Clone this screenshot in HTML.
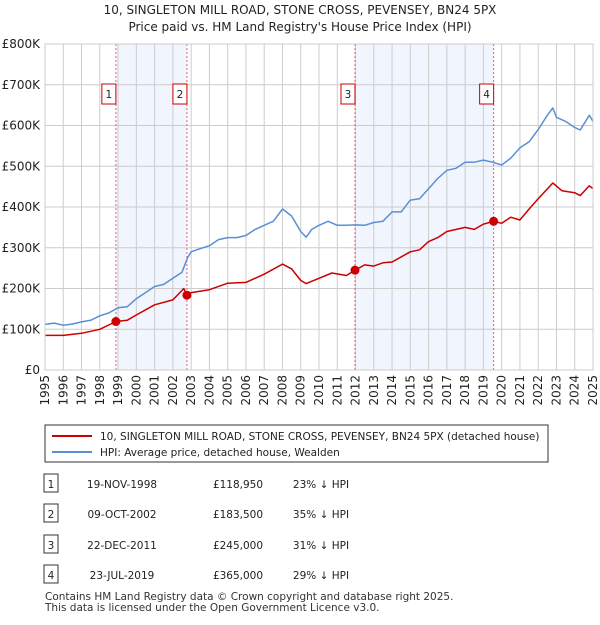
<!DOCTYPE html>
<html><head><meta charset="utf-8">
<style>
body{margin:0;background:#fff;font-family:"Liberation Sans","DejaVu Sans",sans-serif;}
svg text{font-family:"DejaVu Sans","Liberation Sans",sans-serif;}
</style></head>
<body>
<svg id="c" width="600" height="620" xmlns="http://www.w3.org/2000/svg">
<text x="300" y="14" text-anchor="middle" font-size="12" fill="#222">10, SINGLETON MILL ROAD, STONE CROSS, PEVENSEY, BN24 5PX</text>
<text x="300" y="31" text-anchor="middle" font-size="12" fill="#222">Price paid vs. HM Land Registry's House Price Index (HPI)</text>
<g id="plot"></g>
<rect x="45" y="425" width="503" height="37" fill="#fff" stroke="#333"/>
<line x1="52" y1="436" x2="92" y2="436" stroke="#cc0000" stroke-width="2"/>
<text x="100" y="440" font-size="10.5" fill="#222">10, SINGLETON MILL ROAD, STONE CROSS, PEVENSEY, BN24 5PX (detached house)</text>
<line x1="52" y1="452" x2="92" y2="452" stroke="#5b8fd4" stroke-width="2"/>
<text x="100" y="456" font-size="10.5" fill="#222">HPI: Average price, detached house, Wealden</text>
<g id="tbl" font-size="10.5" fill="#222"></g>
<text x="45" y="600" font-size="10.5" fill="#333">Contains HM Land Registry data © Crown copyright and database right 2025.</text>
<text x="45" y="611" font-size="10.5" fill="#333">This data is licensed under the Open Government Licence v3.0.</text>
</svg>
<script>
const hpiYears=[1995,1995.5,1996,1996.5,1997,1997.5,1998,1998.5,1999,1999.5,2000,2000.5,2001,2001.5,2002,2002.5,2002.8,2003,2003.5,2004,2004.5,2005,2005.5,2006,2006.5,2007,2007.5,2008,2008.5,2009,2009.3,2009.6,2010,2010.5,2011,2011.5,2012,2012.5,2013,2013.5,2014,2014.5,2015,2015.5,2016,2016.5,2017,2017.5,2018,2018.5,2019,2019.5,2020,2020.5,2021,2021.5,2022,2022.5,2022.8,2023,2023.5,2024,2024.3,2024.8,2025];
const hpiValues=[112,115,110,113,118,122,133,140,153,155,175,190,205,210,225,240,275,290,298,305,320,325,325,330,345,355,365,395,378,340,326,345,355,365,355,355,356,355,362,365,388,388,417,420,445,470,490,495,510,510,515,510,503,520,545,560,590,625,643,620,610,595,589,625,610];
const ppYears=[1995,1996,1997,1998,1998.88,1999.5,2000,2001,2002,2002.6,2002.77,2003,2004,2005,2006,2007,2008,2008.5,2009,2009.3,2010,2010.7,2011.5,2011.97,2012.5,2013,2013.5,2014,2015,2015.5,2016,2016.5,2017,2018,2018.5,2019,2019.56,2020,2020.5,2021,2021.5,2022,2022.8,2023.3,2024,2024.3,2024.8,2025];
const ppValues=[85,85,90,100,119,122,135,160,172,200,183.5,190,197,213,215,235,260,248,220,212,225,238,232,245,258,255,263,265,290,295,315,325,340,350,345,358,365,360,375,368,395,420,459,440,435,428,452,445];
const saleLabels=["1","2","3","4"];
const saleYears=[1998.88,2002.77,2011.97,2019.56];
const salePrices=[118950,183500,245000,365000];
const saleDates=["19-NOV-1998","09-OCT-2002","22-DEC-2011","23-JUL-2019"];
const salePriceText=["£118,950","£183,500","£245,000","£365,000"];
const saleHpiText=["23% ↓ HPI","35% ↓ HPI","31% ↓ HPI","29% ↓ HPI"];
const yTicks=[0,100,200,300,400,500,600,700,800];
const yTickLabels=["£0","£100K","£200K","£300K","£400K","£500K","£600K","£700K","£800K"];
const xTicks=[1995,1996,1997,1998,1999,2000,2001,2002,2003,2004,2005,2006,2007,2008,2009,2010,2011,2012,2013,2014,2015,2016,2017,2018,2019,2020,2021,2022,2023,2024,2025];

const X0=45,X1=593,Y0=370,Y1=44;
const xs=y=>X0+(y-1995)/30*(X1-X0);
const ys=v=>Y0-v/800*(Y0-Y1);
const NS="http://www.w3.org/2000/svg";
const g=document.getElementById('plot');
function mk(t,a,p){const e=document.createElementNS(NS,t);for(const k in a)e.setAttribute(k,a[k]);(p||g).appendChild(e);return e;}
// shading
for(let i=0;i<4;i+=2){
 const r=mk('rect',{x:xs(saleYears[i]),y:Y1,width:xs(saleYears[i+1])-xs(saleYears[i]),height:Y0-Y1,fill:'#eef3fd',opacity:0.8});
 
 
}
// grid
xTicks.forEach(t=>{
 const l=mk('line',{x1:xs(t),x2:xs(t),y1:Y1,y2:Y0,stroke:'#ccc','stroke-width':1});
 
 
 const tx=mk('text',{x:0,y:0,'font-size':12,fill:'#222','text-anchor':'end',transform:`translate(${xs(t)+4},${Y0+5}) rotate(-90)`});
 tx.textContent=t;
 
 
});
yTicks.forEach((t,i)=>{
 const l=mk('line',{x1:X0,x2:X1,y1:ys(t),y2:ys(t),stroke:'#ccc','stroke-width':1});
 
 
 const tx=mk('text',{x:X0-5,y:ys(t)+4,'font-size':12,fill:'#222','text-anchor':'end'});
 tx.textContent=yTickLabels[i];
 
 
});
// sale lines and markers
saleYears.forEach((s,i)=>{
 const l=mk('line',{x1:xs(s),x2:xs(s),y1:Y1,y2:Y0,stroke:'#e06070','stroke-width':1,'stroke-dasharray':'2,2'});
 
 
 const b=mk('rect',{x:xs(s)-14,y:84,width:14,height:20,fill:'#fff',stroke:'#cc0000'});
 
 
 const t=mk('text',{x:xs(s)-7,y:98,'font-size':10.5,fill:'#222','text-anchor':'middle'});
 t.textContent=saleLabels[i];
 
 
});
function line(xsA,vs,col,name){
 const d=xsA.map((y,i)=>(i?'L':'M')+xs(y).toFixed(1)+','+ys(vs[i]).toFixed(1)).join('');
 const p=mk('path',{d:d,fill:'none',stroke:col,'stroke-width':1.5,'stroke-linejoin':'round'});
 
 
}
line(hpiYears,hpiValues,'#5b8fd4','hpi-line');
line(ppYears,ppValues,'#cc0000','price-paid-line');
saleYears.forEach((s,i)=>{
 const c=mk('circle',{cx:xs(s),cy:ys(salePrices[i]/1000),r:4.5,fill:'#cc0000'});
 
 
});
mk('rect',{x:X0,y:Y1,width:X1-X0,height:Y0-Y1,fill:'none',stroke:'#ccc'});
// table
const tb=document.getElementById('tbl');
const rowY=[484,514,545,575];
saleLabels.forEach((lb,i)=>{
 const y=rowY[i];
 const b=mk('rect',{x:44,y:y-10,width:14,height:18,fill:'#fff',stroke:'#333'},tb);
 
 
 const cells=[[51,lb,'middle'],[122,saleDates[i],'middle'],[238,salePriceText[i],'middle'],[321,saleHpiText[i],'middle']];
 cells.forEach(c=>{
  const t=mk('text',{x:c[0],y:y+4,'text-anchor':c[2]},tb);
  t.textContent=c[1];
  
  
 });
});
</script>
</body></html>
